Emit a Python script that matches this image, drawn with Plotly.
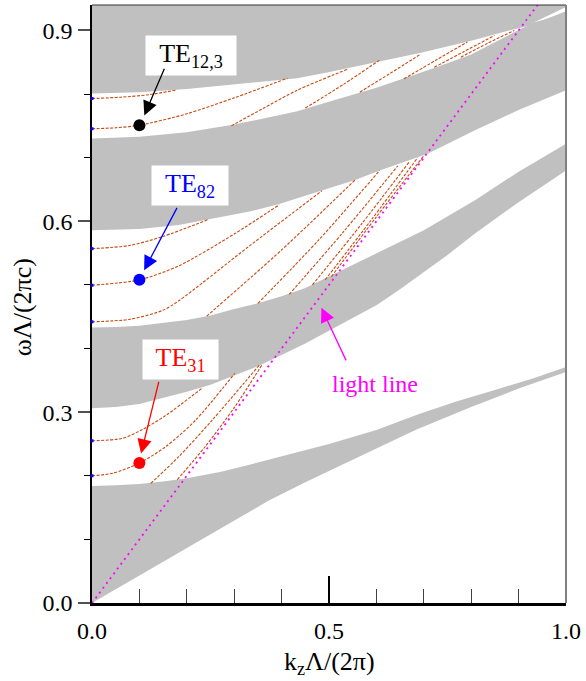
import plotly.graph_objects as go

# ---------------- data ----------------
# photonic band edges (gray projected bands)
band1_lo_k = [0, 0.1, 0.2, 0.3, 0.373, 0.45, 0.506, 0.6, 0.686, 0.8, 0.9, 1.0]
band1_lo_w = [0, 0.043, 0.087, 0.130, 0.161, 0.190, 0.210, 0.243, 0.273, 0.308, 0.337, 0.363]
band1_hi_k = [0, 0.05, 0.1, 0.15, 0.2, 0.27, 0.33, 0.4, 0.5, 0.6, 0.69, 0.77, 0.85, 0.93, 1.0]
band1_hi_w = [0.184, 0.185, 0.187, 0.191, 0.196, 0.206, 0.217, 0.230, 0.250, 0.272, 0.297,
              0.317, 0.335, 0.353, 0.371]

band2_lo_k = [0, 0.05, 0.1, 0.148, 0.2, 0.25, 0.3, 0.35, 0.4, 0.45, 0.5, 0.55, 0.6, 0.65,
              0.7, 0.75, 0.808, 0.9, 1.0]
band2_lo_w = [0.306, 0.308, 0.313, 0.322, 0.332, 0.343, 0.357, 0.372, 0.390, 0.408, 0.428,
              0.448, 0.468, 0.493, 0.520, 0.547, 0.581, 0.630, 0.680]
band2_hi_k = [0, 0.05, 0.1, 0.15, 0.2, 0.25, 0.3, 0.35, 0.4, 0.45, 0.52, 0.6, 0.7, 0.808, 0.9, 1.0]
band2_hi_w = [0.433, 0.434, 0.436, 0.440, 0.445, 0.452, 0.462, 0.471, 0.482, 0.495, 0.520,
              0.550, 0.586, 0.633, 0.678, 0.722]

band3_lo_k = [0, 0.1, 0.183, 0.246, 0.33, 0.395, 0.485, 0.555, 0.607, 0.708, 0.808, 0.9, 1.0]
band3_lo_w = [0.586, 0.588, 0.594, 0.603, 0.615, 0.627, 0.648, 0.665, 0.680, 0.706, 0.743, 0.775, 0.806]
band3_hi_k = [0, 0.1, 0.2, 0.3, 0.433, 0.496, 0.6, 0.722, 0.8, 0.906, 1.0]
band3_hi_w = [0.730, 0.733, 0.740, 0.752, 0.773, 0.787, 0.810, 0.841, 0.862, 0.903, 0.93]

band4_lo_k = [0, 0.1, 0.2, 0.3, 0.433, 0.496, 0.6, 0.694, 0.8, 0.891, 1.0]
band4_lo_w = [0.801, 0.803, 0.808, 0.815, 0.825, 0.834, 0.850, 0.865, 0.884, 0.902, 0.92]
band4_hi_k = [0, 0.933, 1.0]
band4_hi_w = [0.95, 0.913, 0.926]

band5_lo_k = [0, 0.933, 1.0]
band5_lo_w = [0.91, 0.913, 0.937]
band5_hi_k = [0, 1.0]
band5_hi_w = [1.0, 1.0]

# defect (guided) mode dispersion curves
modes_k = [
    # gap A
    [0, 0.065, 0.107, 0.156, 0.231],
    [0, 0.044, 0.1, 0.156, 0.218, 0.301],
    [0.124, 0.183, 0.253, 0.353],
    [0.180, 0.239, 0.301, 0.360],
    # gap B
    [0, 0.079, 0.149, 0.246],
    [0, 0.1, 0.183, 0.3, 0.395],
    [0, 0.08, 0.149, 0.183, 0.33, 0.485],
    [0.242, 0.4, 0.555],
    [0.35, 0.48, 0.607],
    [0.416, 0.53, 0.645],
    [0.465, 0.57, 0.669],
    [0.492, 0.59, 0.687],
    [0.505, 0.6, 0.70],
    # gap C
    [0, 0.06, 0.12, 0.176],
    [0, 0.05, 0.1, 0.2, 0.3, 0.4125],
    [0.294, 0.36, 0.433, 0.539],
    [0.45, 0.53, 0.606],
    [0.565, 0.63, 0.694],
    [0.658, 0.725, 0.792],
    [0.722, 0.785, 0.849],
    [0.778, 0.835, 0.891],
]
modes_w = [
    [0.255, 0.259, 0.273, 0.295, 0.337],
    [0.200, 0.204, 0.220, 0.246, 0.287, 0.361],
    [0.188, 0.230, 0.287, 0.374],
    [0.194, 0.246, 0.308, 0.376],
    [0.557, 0.562, 0.576, 0.603],
    [0.4995, 0.508, 0.530, 0.580, 0.626],
    [0.442, 0.446, 0.460, 0.475, 0.560, 0.648],
    [0.451, 0.555, 0.665],
    [0.471, 0.572, 0.680],
    [0.485, 0.583, 0.687],
    [0.500, 0.597, 0.693],
    [0.508, 0.603, 0.700],
    [0.513, 0.607, 0.703],
    [0.793, 0.795, 0.799, 0.806],
    [0.7455, 0.747, 0.751, 0.769, 0.794, 0.825],
    [0.750, 0.777, 0.806, 0.839],
    [0.778, 0.815, 0.853],
    [0.803, 0.833, 0.863],
    [0.824, 0.853, 0.882],
    [0.842, 0.867, 0.892],
    [0.858, 0.880, 0.900],
]

# light line
light_k = [0, 1.0]
light_w = [0, 1.0]

# labelled modes
mark_names = ["TE<sub>12,3</sub>", "TE<sub>82</sub>", "TE<sub>31</sub>"]
mark_k = [0.1, 0.1, 0.1]
mark_w = [0.751, 0.508, 0.220]
mark_colors = ["black", "blue", "red"]
label_k = [0.209, 0.206, 0.187]
label_w = [0.8605, 0.6565, 0.383]
arrow_tail_k = [0.154, 0.181, 0.1417]
arrow_tail_w = [0.842, 0.6235, 0.350]
arrow_tip_k = [0.1104, 0.110, 0.1035]
arrow_tip_w = [0.7665, 0.523, 0.235]
label_box_w = [88, 74, 73]

ll_text = "light line"
ll_label_k, ll_label_w = 0.598, 0.344
ll_tail_k, ll_tail_w = 0.5375, 0.379
ll_tip_k, ll_tip_w = 0.484, 0.464

x_ticks = [0.0, 0.5, 1.0]
y_ticks = [0.0, 0.3, 0.6, 0.9]

# ---------------- figure ----------------
GRAY = "#c0c0c0"
ORANGE = "#c84a10"
FONT = "Liberation Serif, Times New Roman, serif"

fig = go.Figure()

bands = [
    (band1_lo_k, band1_lo_w, band1_hi_k, band1_hi_w),
    (band2_lo_k, band2_lo_w, band2_hi_k, band2_hi_w),
    (band3_lo_k, band3_lo_w, band3_hi_k, band3_hi_w),
    (band4_lo_k, band4_lo_w, band4_hi_k, band4_hi_w),
    (band5_lo_k, band5_lo_w, band5_hi_k, band5_hi_w),
]
for lk, lw, hk, hw in bands:
    fig.add_trace(go.Scatter(
        x=list(lk) + list(hk)[::-1], y=list(lw) + list(hw)[::-1],
        fill="toself", fillcolor=GRAY, mode="lines",
        line=dict(width=0, color=GRAY), hoverinfo="skip", showlegend=False))

for mk, mw in zip(modes_k, modes_w):
    fig.add_trace(go.Scatter(
        x=mk, y=mw, mode="lines",
        line=dict(color=ORANGE, width=1.1, dash="3px,1.5px", shape="spline", smoothing=0.8),
        hoverinfo="skip", showlegend=False))

# small blue dots where modes start on the k=0 axis
start_w = [mw[0] for mk, mw in zip(modes_k, modes_w) if mk[0] == 0]
fig.add_trace(go.Scatter(
    x=[0] * len(start_w), y=start_w, mode="markers",
    marker=dict(color="blue", size=3, symbol="square"),
    cliponaxis=False, hoverinfo="skip", showlegend=False))

fig.add_trace(go.Scatter(
    x=light_k, y=light_w, mode="lines",
    line=dict(color="#ff00ff", width=1.8, dash="2px,4px"),
    hoverinfo="skip", showlegend=False))

fig.add_trace(go.Scatter(
    x=mark_k, y=mark_w, mode="markers",
    marker=dict(color=mark_colors, size=12),
    hoverinfo="skip", showlegend=False))

annotations = []
for i in range(3):
    annotations.append(dict(
        x=label_k[i], y=label_w[i], xref="x", yref="y",
        text=mark_names[i], showarrow=False, bgcolor="white",
        width=label_box_w[i], height=37,
        font=dict(family=FONT, size=26, color=mark_colors[i])))
    annotations.append(dict(
        x=arrow_tip_k[i], y=arrow_tip_w[i], xref="x", yref="y",
        ax=arrow_tail_k[i], ay=arrow_tail_w[i], axref="x", ayref="y",
        text="", showarrow=True, arrowhead=2, arrowsize=2.2, arrowwidth=1.3,
        arrowcolor=mark_colors[i], standoff=0))
annotations.append(dict(
    x=ll_label_k, y=ll_label_w, xref="x", yref="y", text=ll_text,
    showarrow=False, font=dict(family=FONT, size=24, color="#ff00ff")))
annotations.append(dict(
    x=ll_tip_k, y=ll_tip_w, xref="x", yref="y",
    ax=ll_tail_k, ay=ll_tail_w, axref="x", ayref="y",
    text="", showarrow=True, arrowhead=2, arrowsize=2.2, arrowwidth=1.3,
    arrowcolor="#ff00ff", standoff=0))
# axis titles
annotations.append(dict(
    x=0.5, y=-0.1, xref="paper", yref="paper", text="k<sub>z</sub>Λ/(2π)",
    showarrow=False, xanchor="center", yanchor="middle",
    font=dict(family=FONT, size=26, color="black")))
annotations.append(dict(
    x=-0.145, y=0.495, xref="paper", yref="paper", text="ωΛ/(2πc)",
    showarrow=False, xanchor="center", yanchor="middle", textangle=-90,
    font=dict(family=FONT, size=26, color="black")))

shapes = [
    dict(type="line", xref="paper", yref="paper", x0=0, x1=1, y0=1, y1=1,
         line=dict(color="#303030", width=1), layer="above"),
    dict(type="line", xref="paper", yref="paper", x0=1, x1=1, y0=0, y1=1,
         line=dict(color="#808080", width=2), layer="above"),
]

fig.update_layout(
    width=586, height=681,
    margin=dict(l=92, r=14, t=5, b=78),
    paper_bgcolor="white", plot_bgcolor="white",
    font=dict(family=FONT, size=24, color="black"),
    annotations=annotations, shapes=shapes, showlegend=False,
    xaxis=dict(range=[0, 1.0], tickvals=x_ticks, tickformat=".1f",
               ticks="inside", ticklen=27, tickwidth=1.5, tickcolor="black",
               minor=dict(dtick=0.1, tick0=0, ticks="inside", ticklen=14,
                          tickwidth=1, tickcolor="#404040"),
               showline=True, linecolor="black", linewidth=2.5,
               showgrid=False, zeroline=False, layer="above traces",
               ticklabeloverflow="allow",
               ticklabelstandoff=4, tickfont=dict(family=FONT, size=24)),
    yaxis=dict(range=[0, 0.94], tickvals=y_ticks, tickformat=".1f",
               ticks="outside", ticklen=12, tickwidth=1.5, tickcolor="#505050",
               minor=dict(dtick=0.1, tick0=0, ticks="outside", ticklen=6,
                          tickwidth=1, tickcolor="black"),
               showline=True, linecolor="black", linewidth=1.5,
               showgrid=False, zeroline=False, layer="below traces",
               ticklabelstandoff=1, tickfont=dict(family=FONT, size=24)),
)

fig.write_html("out.html")
